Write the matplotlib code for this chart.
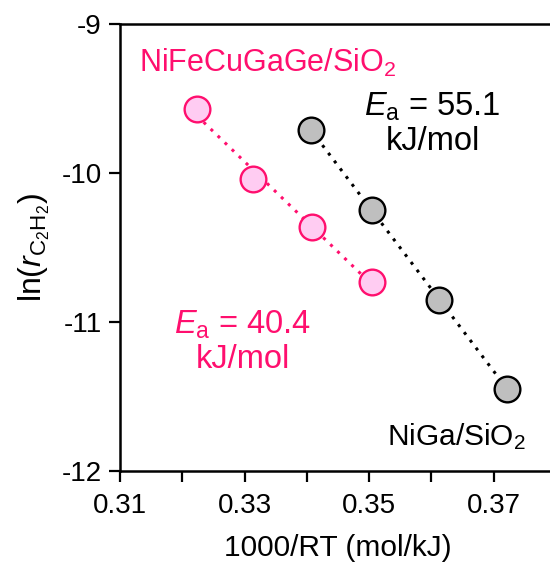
import numpy as np
import matplotlib
matplotlib.use('Agg')
import matplotlib.pyplot as plt

plt.rcParams['font.family'] = ['Liberation Sans', 'DejaVu Sans']
plt.rcParams['mathtext.fontset'] = 'custom'
plt.rcParams['mathtext.rm'] = 'Liberation Sans'
plt.rcParams['mathtext.it'] = 'Liberation Sans:italic'

# Arrhenius data: 1000/RT (mol/kJ) vs ln(rate)
x_nifecugage = [0.3223, 0.3313, 0.3408, 0.3505]
y_nifecugage = [-9.57, -10.04, -10.36, -10.73]
x_niga = [0.3406, 0.3505, 0.3612, 0.3722]
y_niga = [-9.71, -10.25, -10.85, -11.45]

ea_nifecugage = 40.4
ea_niga = 55.1

pink = '#FF0F6E'
pink_fill = '#FFCCF2'
grey_fill = '#BFBFBF'

fig = plt.figure(figsize=(5.5, 5.68), dpi=100)
ax = fig.add_axes([120/550, 97/568, 436/550, 447/568])

def fitline(x, y, color):
    p = np.polyfit(x, y, 1)
    xx = np.array([min(x), max(x)])
    ax.plot(xx, np.polyval(p, xx), ls=(0, (1, 2.2)), lw=2.2, color=color, zorder=2)

fitline(x_nifecugage, y_nifecugage, pink)
fitline(x_niga, y_niga, 'black')

ax.plot(x_nifecugage, y_nifecugage, 'o', ms=18.5, mfc=pink_fill, mec=pink, mew=1.7, zorder=3)
ax.plot(x_niga, y_niga, 'o', ms=18.5, mfc=grey_fill, mec='black', mew=1.7, zorder=3)

ax.text(0.3337, -9.26, 'NiFeCuGaGe/SiO$_2$', color=pink, fontsize=22, ha='center', va='center')
ax.text(0.3640, -11.77, 'NiGa/SiO$_2$', color='black', fontsize=21.5, ha='center', va='center')
ax.text(0.3602, -9.67, '$\\mathit{E}_\\mathrm{a}$ = %.1f\nkJ/mol' % ea_niga, color='black',
        fontsize=23.5, ha='center', va='center', linespacing=1.12)
ax.text(0.3297, -11.13, '$\\mathit{E}_\\mathrm{a}$ = %.1f\nkJ/mol' % ea_nifecugage, color=pink,
        fontsize=23.5, ha='center', va='center', linespacing=1.12)

ax.set_xlim(0.31, 0.38)
ax.set_ylim(-12, -9)
ax.set_xticks([0.31, 0.33, 0.35, 0.37])
ax.set_xticklabels(['0.31', '0.33', '0.35', '0.37'])
ax.set_xticks([0.32, 0.34, 0.36], minor=True)
ax.set_yticks([-12, -11, -10, -9])
ax.set_yticklabels(['-12', '-11', '-10', '-9'])
ax.tick_params(which='both', direction='out', length=8, width=1.6, labelsize=20)
ax.tick_params(axis='x', pad=8)
ax.tick_params(axis='y', pad=5)

for s in ax.spines.values():
    s.set_linewidth(1.8)

ax.set_xlabel('1000/RT (mol/kJ)', fontsize=21.5, labelpad=11)
ax.set_ylabel('ln($\\mathit{r}_{\\mathrm{C_2H_2}}$)', fontsize=23, labelpad=7)

fig.savefig('out.png', dpi=100)
